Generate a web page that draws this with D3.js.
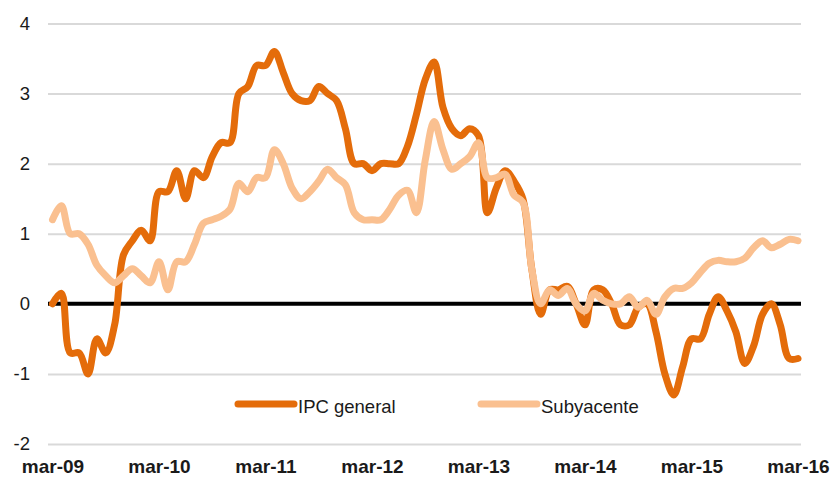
<!DOCTYPE html>
<html>
<head>
<meta charset="utf-8">
<script src="https://cdn.jsdelivr.net/npm/d3@7"></script>
<style>
  body { margin: 0; background: #fff; }
  svg text { font-family: "Liberation Sans", Arial, Helvetica, sans-serif; fill: #1a1a1a; }
</style>
</head>
<body>
<svg id="chart" width="838" height="480"></svg>
<script>
// meses desde mar-09 hasta mar-16 (85 valores mensuales)
var xTickLabels = ["mar-09", "mar-10", "mar-11", "mar-12", "mar-13", "mar-14", "mar-15", "mar-16"]
var yTicks = [-2, -1, 0, 1, 2, 3, 4]

var ipcGeneral = [
  0.0, 0.15, -0.7, -0.7, -1.0, -0.5, -0.7, -0.3, 0.7, 0.9, 1.05, 0.9,
  1.6, 1.6, 1.9, 1.5, 1.9, 1.8, 2.1, 2.3, 2.3, 3.0, 3.1, 3.4,
  3.4, 3.6, 3.3, 3.0, 2.9, 2.9, 3.1, 3.0, 2.9, 2.5, 2.0, 2.0,
  1.9, 2.0, 2.0, 2.0, 2.25, 2.7, 3.2, 3.45, 2.8, 2.5, 2.4, 2.5,
  2.4, 1.3, 1.65, 1.9, 1.75, 1.5, 0.5, -0.15, 0.2, 0.2, 0.25, 0.0,
  -0.3, 0.2, 0.2, 0.0, -0.3, -0.3, -0.05, 0.0, -0.4, -1.0, -1.3, -0.9,
  -0.5, -0.5, -0.15, 0.1, -0.1, -0.4, -0.85, -0.6, -0.15, 0.0, -0.3, -0.78,
  -0.78
]

var subyacente = [
  1.2, 1.4, 1.0, 1.0, 0.85, 0.55, 0.4, 0.3, 0.4, 0.5, 0.4, 0.3,
  0.6, 0.2, 0.6, 0.6, 0.85, 1.15, 1.2, 1.25, 1.35, 1.72, 1.6, 1.8,
  1.8, 2.2, 2.0, 1.65, 1.5, 1.6, 1.75, 1.92, 1.8, 1.7, 1.3, 1.2,
  1.2, 1.2, 1.35, 1.55, 1.62, 1.3, 2.05, 2.6, 2.2, 1.92, 2.0, 2.1,
  2.3, 1.8, 1.8, 1.85, 1.55, 1.45, 0.5, 0.0, 0.2, 0.12, 0.22, 0.0,
  -0.1, 0.15, 0.05, 0.0, 0.0, 0.1, -0.05, 0.05, -0.15, 0.1, 0.22, 0.22,
  0.3, 0.45, 0.58, 0.62, 0.6, 0.6, 0.65, 0.8, 0.9, 0.8, 0.85, 0.92,
  0.9
]

var seriesNames = ["IPC general", "Subyacente"]
var seriesColors = ["#e46c0a", "#fac090"]

var svg = d3.select("#chart")
var gridLeft = 48, gridRight = 801

var xScale = d3.scaleLinear()
  .domain([0, ipcGeneral.length - 1])
  .range([52.5, 798])

var yScale = d3.scaleLinear()
  .domain([-2, 4])
  .range([444, 23.5])

// eje y con lineas de cuadricula
var yAxis = d3.axisLeft(yScale)
  .tickValues(yTicks)
  .tickSize(-(gridRight - gridLeft))
  .tickPadding(18)
  .tickFormat(d => String(d))

var gy = svg.append("g")
  .attr("transform", "translate(" + gridLeft + ",0)")
  .call(yAxis)
gy.select(".domain").remove()
gy.selectAll(".tick line")
  .attr("stroke", "#d9d9d9")
  .attr("stroke-width", 2)
gy.selectAll(".tick text")
  .attr("font-size", 18.5)
  .attr("fill", "#1a1a1a")

// linea del cero
svg.append("line")
  .attr("x1", gridLeft)
  .attr("x2", gridRight)
  .attr("y1", yScale(0))
  .attr("y2", yScale(0))
  .attr("stroke", "#000")
  .attr("stroke-width", 4)

// eje x, una etiqueta cada 12 meses
var xAxis = d3.axisBottom(xScale)
  .tickValues(xTickLabels.map((d, i) => i * 12))
  .tickFormat((d, i) => xTickLabels[i])
  .tickSize(0)
  .tickPadding(0)

var gx = svg.append("g")
  .attr("transform", "translate(0,459)")
  .call(xAxis)
gx.select(".domain").remove()
gx.selectAll(".tick text")
  .attr("font-size", 19)
  .attr("font-weight", "bold")
  .attr("fill", "#1a1a1a")

var line = d3.line()
  .curve(d3.curveCatmullRom.alpha(0.5))
  .x((d, i) => xScale(i))
  .y(d => yScale(d))

// IPC general debajo, subyacente encima
var allSeries = [ipcGeneral, subyacente]
svg.selectAll(".serie")
  .data(allSeries)
  .enter()
  .append("path")
  .attr("class", "serie")
  .attr("fill", "none")
  .attr("stroke", (d, i) => seriesColors[i])
  .attr("stroke-width", 7)
  .attr("stroke-linecap", "round")
  .attr("stroke-linejoin", "round")
  .attr("d", d => line(d))

// leyenda
var legendX = [238, 481]
var legend = svg.selectAll(".leg")
  .data(seriesNames)
  .enter()
  .append("g")
  .attr("class", "leg")
  .attr("transform", (d, i) => "translate(" + legendX[i] + ",404)")

legend.append("line")
  .attr("x1", 0)
  .attr("x2", 56)
  .attr("stroke", (d, i) => seriesColors[i])
  .attr("stroke-width", 7)
  .attr("stroke-linecap", "round")

legend.append("text")
  .attr("x", 60)
  .attr("y", 9)
  .attr("font-size", 18.5)
  .text(d => d)
</script>
</body>
</html>
